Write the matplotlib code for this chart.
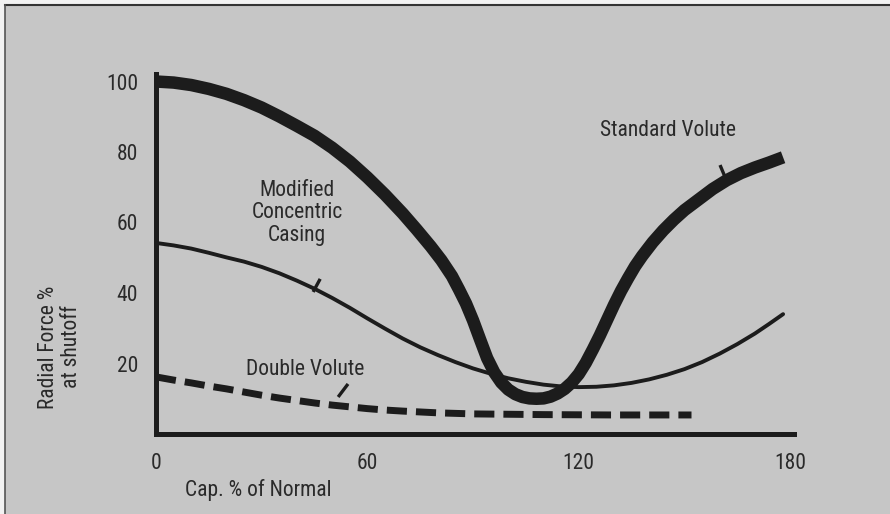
import matplotlib
matplotlib.use("Agg")
import matplotlib.pyplot as plt
from matplotlib import font_manager
from matplotlib.patches import Rectangle
from matplotlib.lines import Line2D

# ---------------- data ----------------
std_x = [0, 5, 10, 15, 20, 25, 30, 35, 40, 45, 50, 55, 60, 65, 70, 74, 78, 81, 84, 86, 88,
         90, 92, 94, 96, 98, 100, 102, 104, 106, 108, 110, 112, 114, 116, 118, 120, 122,
         124, 126, 128, 130, 132, 134, 136, 138, 141, 144, 147, 150, 154, 158, 162, 166,
         170, 174, 178]
std_y = [100, 99.7, 99, 97.9, 96.5, 94.7, 92.6, 90.1, 87.4, 84.6, 81.2, 77.3, 72.8, 67.9,
         62.6, 58, 53.2, 49.3, 44.8, 41, 37, 32.2, 26.8, 21.5, 17.5, 14.6, 12.6, 11.3, 10.5,
         10.1, 10, 10.1, 10.6, 11.5, 12.8, 14.6, 17, 20.2, 24, 28, 32.3, 36.6, 40.6, 44.2,
         47.6, 50.5, 54.4, 57.8, 60.8, 63.5, 66.5, 69.5, 72, 74, 75.6, 77, 78.5]

mcc_x = [0, 5, 10, 15, 20, 25, 30, 35, 40, 45, 50, 55, 60, 65, 70, 75, 80, 85, 90, 95,
         100, 105, 110, 115, 120, 125, 130, 135, 140, 145, 150, 155, 160, 165, 170, 174, 178]
mcc_y = [54.2, 53.5, 52.6, 51.4, 50.1, 48.9, 47.4, 45.6, 43.5, 41.2, 38.6, 35.8, 32.8, 29.9,
         27.1, 24.6, 22.4, 20.4, 18.6, 17.1, 15.8, 14.8, 14.0, 13.5, 13.3, 13.4, 13.8, 14.5,
         15.5, 16.8, 18.4, 20.4, 22.8, 25.5, 28.5, 31.2, 34]

dv_x = [0, 5, 10, 15, 20, 25, 30, 35, 40, 45, 50, 55, 60, 65, 70, 80, 90, 100, 110, 130, 152]
dv_y = [16.2, 15.3, 14.5, 13.6, 12.8, 11.9, 11.0, 10.2, 9.5, 8.8, 8.2, 7.7, 7.2, 6.8, 6.5,
        6.0, 5.7, 5.6, 5.5, 5.4, 5.4]

x_ticks = [0, 60, 120, 180]
y_ticks = [20, 40, 60, 80, 100]

labels = ["Standard Volute", "Modified\nConcentric\nCasing", "Double Volute"]
label_pos = [(145.3, 86.2), (40.0, 62.7), (42.3, 18.2)]
pointers = [((160.1, 161.9), (76.3, 72.0)),
            ((44.6, 46.6), (40.3, 44.0)),
            ((51.7, 54.5), (10.5, 14.2))]

x_label = "Cap. % of Normal"
y_label = "Radial Force %\nat shutoff"

# ---------------- fonts ----------------
avail = {f.name for f in font_manager.fontManager.ttflist}
fam = None
for cand in ["Liberation Sans Narrow", "Roboto Condensed", "Open Sans Condensed", "Liberation Sans"]:
    if cand in avail:
        fam = cand
        break
if fam is None:
    fam = "DejaVu Sans"
plt.rcParams['font.family'] = [fam, 'DejaVu Sans']

ink = "#1c1c1c"
txt = "#2a2a2a"
bg = "#c6c6c6"
fs = 15.5

fig = plt.figure(figsize=(8.9, 5.14), dpi=100)
fig.patch.set_facecolor("#f2f2f2")
W, H = 890.0, 514.0
# grey panel with dark top/left border
fig.patches.append(Rectangle((5 / W, 0), 1, 1 - 5 / H, transform=fig.transFigure,
                             facecolor=bg, edgecolor="none", zorder=-10))
fig.lines.append(Line2D([5 / W, 1], [1 - 5 / H, 1 - 5 / H], transform=fig.transFigure,
                        color="#333333", lw=1.5, zorder=-5))
fig.lines.append(Line2D([5 / W, 5 / W], [0, 1 - 5 / H], transform=fig.transFigure,
                        color="#555555", lw=1.2, zorder=-5))

ax = fig.add_axes([156 / W, (514 - 434) / H, (181 * 3.523) / W, (102 * 3.525) / H])
ax.set_zorder(5)
ax.set_facecolor("none")
ax.set_xlim(0, 181)
ax.set_ylim(0, 102)

for s in ["top", "right"]:
    ax.spines[s].set_visible(False)
for s in ["left", "bottom"]:
    ax.spines[s].set_linewidth(3.6)
    ax.spines[s].set_color(ink)
    ax.spines[s].set_capstyle("projecting")

ax.set_xticks(x_ticks)
ax.set_yticks(y_ticks)
ax.tick_params(length=0, labelsize=fs, colors=txt)
ax.tick_params(axis="x", pad=14)
ax.tick_params(axis="y", pad=13)

# curves
ax.plot(std_x, std_y, color=ink, lw=9.0, solid_capstyle="butt", solid_joinstyle="round", clip_on=False)
ax.plot(mcc_x, mcc_y, color=ink, lw=2.8, solid_capstyle="round", solid_joinstyle="round", clip_on=False)
ax.plot(dv_x, dv_y, color=ink, lw=5.0, dashes=(2.9, 1.3), dash_capstyle="butt", clip_on=False)

# labels and pointers
for lab, (lx, ly) in zip(labels, label_pos):
    ax.text(lx, ly, lab, ha="center", va="center", fontsize=fs, color=txt,
            linespacing=1.1, multialignment="center")
for px, py in pointers:
    ax.plot(px, py, color=ink, lw=2.4, solid_capstyle="butt")

fig.text(60 / W, 1 - 347 / H, y_label, rotation=90, ha="center", va="center",
         fontsize=fs, color=txt, linespacing=1.15, multialignment="center")
fig.text(258 / W, 1 - 490 / H, x_label, ha="center", va="center", fontsize=fs, color=txt)

fig.savefig("out.png", dpi=100, facecolor=fig.get_facecolor())
